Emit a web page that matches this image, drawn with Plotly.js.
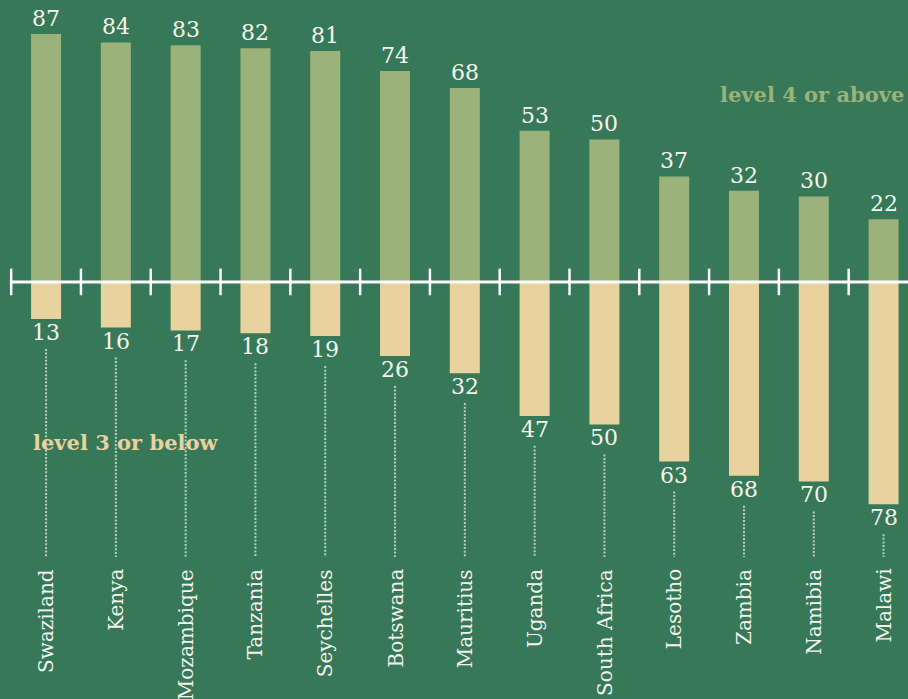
<!DOCTYPE html>
<html>
<head>
<meta charset="utf-8">
<script src="https://cdn.plot.ly/plotly-3.0.1.min.js"></script>
<style>
html,body{margin:0;padding:0;background:#377858;}
#chart{width:908px;height:699px;}
</style>
</head>
<body>
<div id="chart"></div>
<script>
const countries = ["Swaziland","Kenya","Mozambique","Tanzania","Seychelles","Botswana","Mauritius","Uganda","South Africa","Lesotho","Zambia","Namibia","Malawi"];
const level4Above = [87,84,83,82,81,74,68,53,50,37,32,30,22];
const level3Below = [13,16,17,18,19,26,32,47,50,63,68,70,78];
const seriesNames = ["level 4 or above","level 3 or below"];

const BG = "#377858";
const GREEN = "#9bb27b";
const BEIGE = "#e8d2a0";
const FONT = "DejaVu Serif";

const idx = countries.map((c,i)=>i);
const negLower = level3Below.map(v=>-v);

const traces = [
  {type:"bar", x:idx, y:level4Above, width:0.43, marker:{color:GREEN}, hoverinfo:"skip", name:seriesNames[0]},
  {type:"bar", x:idx, y:negLower, width:0.43, marker:{color:BEIGE}, hoverinfo:"skip", name:seriesNames[1]}
];

// axis ticks between categories
const tickX = countries.map((c,i)=>i-0.5);
traces.push({type:"scatter", mode:"markers", x:tickX, y:tickX.map(()=>0),
  marker:{symbol:"line-ns", size:19, color:"#ffffff", line:{color:"#ffffff", width:2.5}},
  hoverinfo:"skip", showlegend:false, cliponaxis:false});

const xRange = [-0.66, 12.35];
const yRange = [-146.3, 98.9];

const shapes = [
  {type:"line", xref:"x", yref:"y", x0:-0.5, x1:xRange[1], y0:0, y1:0, line:{color:"#ffffff", width:3}}
];
level3Below.forEach((v,i)=>{
  shapes.push({type:"line", xref:"x", yref:"y", x0:i, x1:i, y0:-v-10.5, y1:-96.5,
    line:{color:"rgba(205,222,210,0.85)", width:2, dash:"2px,1.6px"}});
});

const annotations = [];
level4Above.forEach((v,i)=>{
  annotations.push({x:i, y:v, xref:"x", yref:"y", text:String(v), showarrow:false,
    yanchor:"bottom", yshift:1, font:{family:FONT, size:22, color:"#f4f4ec"}});
});
level3Below.forEach((v,i)=>{
  annotations.push({x:i, y:-v, xref:"x", yref:"y", text:String(v), showarrow:false,
    yanchor:"top", yshift:1, font:{family:FONT, size:22, color:"#f4f4ec"}});
});
countries.forEach((c,i)=>{
  annotations.push({x:i, y:-100.0, xref:"x", yref:"y", text:c, showarrow:false,
    textangle:-90, yanchor:"top", font:{family:FONT, size:20, color:"#f4f4ec"}});
});
annotations.push({x:906/908, y:1-95/699, xref:"paper", yref:"paper", xanchor:"right", yanchor:"middle",
  text:"<b>"+seriesNames[0]+"</b>", showarrow:false, font:{family:FONT, size:21, color:GREEN}});
annotations.push({x:31/908, y:1-442/699, xref:"paper", yref:"paper", xanchor:"left", yanchor:"middle",
  text:"<b>"+seriesNames[1]+"</b>", showarrow:false, font:{family:FONT, size:21, color:BEIGE}});

const layout = {
  width:908, height:699,
  margin:{l:0,r:0,t:0,b:0,pad:0},
  paper_bgcolor:BG, plot_bgcolor:BG,
  showlegend:false,
  barmode:"overlay",
  xaxis:{range:xRange, visible:false, fixedrange:true},
  yaxis:{range:yRange, visible:false, fixedrange:true},
  shapes:shapes,
  annotations:annotations
};

Plotly.newPlot("chart", traces, layout, {displayModeBar:false, staticPlot:true});
</script>
</body>
</html>
